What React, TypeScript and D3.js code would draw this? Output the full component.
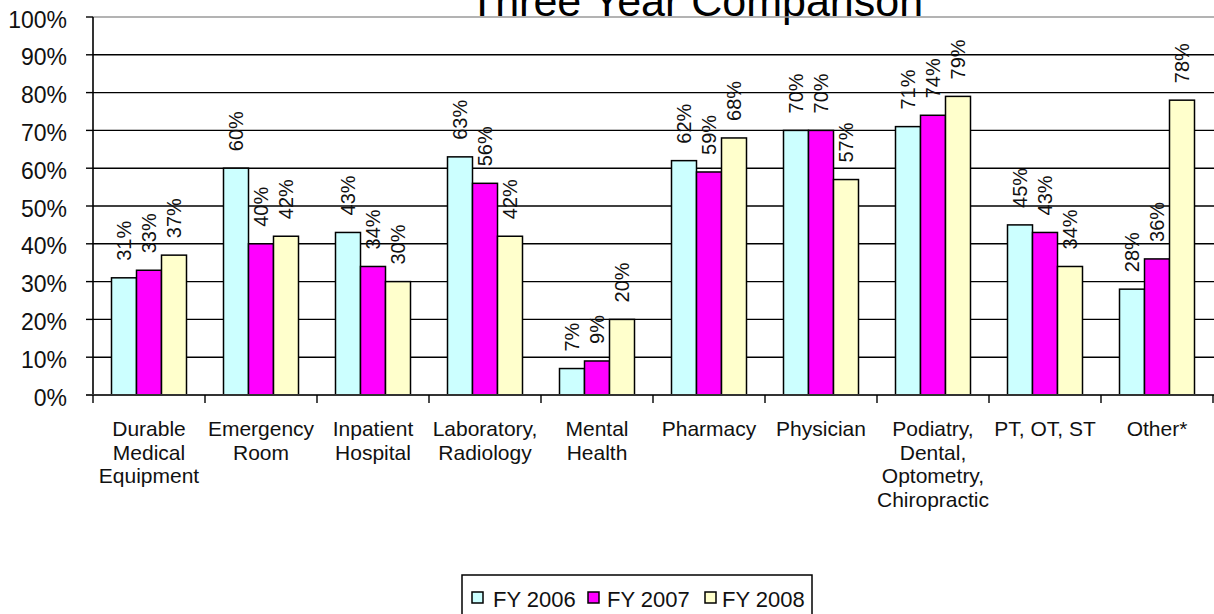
import React from "react";
import * as d3 from "d3";

const title = "Three Year Comparison";
const categories = [
  "Durable Medical Equipment",
  "Emergency Room",
  "Inpatient Hospital",
  "Laboratory, Radiology",
  "Mental Health",
  "Pharmacy",
  "Physician",
  "Podiatry, Dental, Optometry, Chiropractic",
  "PT, OT, ST",
  "Other*",
];
const categoryLines = [
  ["Durable", "Medical", "Equipment"],
  ["Emergency", "Room"],
  ["Inpatient", "Hospital"],
  ["Laboratory,", "Radiology"],
  ["Mental", "Health"],
  ["Pharmacy"],
  ["Physician"],
  ["Podiatry,", "Dental,", "Optometry,", "Chiropractic"],
  ["PT, OT, ST"],
  ["Other*"],
];
const seriesNames = ["FY 2006", "FY 2007", "FY 2008"];
const fy2006 = [31, 60, 43, 63, 7, 62, 70, 71, 45, 28];
const fy2007 = [33, 40, 34, 56, 9, 59, 70, 74, 43, 36];
const fy2008 = [37, 42, 30, 42, 20, 68, 57, 79, 34, 78];
const yTicks = [0, 10, 20, 30, 40, 50, 60, 70, 80, 90, 100];

const colors = ["#CCFFFF", "#FF00FF", "#FFFFCC"];
const FONT = "'Liberation Sans', Arial, sans-serif";

export default function App() {
  const W = 1214;
  const H = 614;
  const left = 93;
  const right = 1213;
  const top = 17;
  const bottom = 395;
  const series = [fy2006, fy2007, fy2008];

  const x = d3.scaleBand<string>().domain(categories).range([left, right]).paddingInner(0).paddingOuter(0);
  const xs = d3
    .scaleBand<string>()
    .domain(seriesNames)
    .range([0, x.bandwidth()])
    .paddingInner(0)
    .paddingOuter(0.74);
  const y = d3.scaleLinear().domain([0, 100]).range([bottom, top]);

  const legendItems = [
    { sq: 472, tx: 493 },
    { sq: 588, tx: 607 },
    { sq: 705, tx: 722 },
  ];

  return (
    <svg
      width={W}
      height={H}
      style={{ position: "absolute", left: 0, top: 0, background: "#fff" }}
      fontFamily={FONT}
    >
      <rect x={0} y={0} width={W} height={H} fill="#fff" />
      {/* title */}
      <text x={696} y={16} textAnchor="middle" fontSize={43} fill="#000">
        {title}
      </text>

      {/* gridlines */}
      {yTicks.map((t) => (
        <line
          key={"g" + t}
          x1={left}
          x2={W}
          y1={y(t)}
          y2={y(t)}
          stroke={t === 100 ? "#9a9a9a" : t === 0 ? "#333" : "#000"}
          strokeWidth={t === 0 ? 2.2 : 1.4}
        />
      ))}
      {/* y ticks */}
      {yTicks.map((t) => (
        <g key={"yt" + t}>
          <line x1={86} x2={left} y1={y(t)} y2={y(t)} stroke="#000" strokeWidth={1.4} />
          <text x={67} y={y(t)} dy="0.46em" textAnchor="end" fontSize={23} fill="#111">
            {t + "%"}
          </text>
        </g>
      ))}

      {/* bars */}
      {categories.map((c, i) =>
        series.map((s, j) => {
          const bx = (x(c) as number) + (xs(seriesNames[j]) as number);
          const bw = xs.bandwidth();
          return (
            <rect
              key={c + j}
              x={bx}
              y={y(s[i])}
              width={bw}
              height={y(0) - y(s[i])}
              fill={colors[j]}
              stroke="#000"
              strokeWidth={1.5}
            />
          );
        })
      )}

      {/* data labels */}
      {categories.map((c, i) =>
        series.map((s, j) => {
          const cx = (x(c) as number) + (xs(seriesNames[j]) as number) + xs.bandwidth() / 2;
          const ty = y(s[i]) - 17;
          return (
            <text
              key={"l" + c + j}
              transform={`translate(${cx},${ty}) rotate(-90)`}
              dominantBaseline="central"
              textAnchor="start"
              fontSize={20}
              fill="#111"
            >
              {s[i] + "%"}
            </text>
          );
        })
      )}

      {/* y axis */}
      <line x1={left} x2={left} y1={top} y2={bottom} stroke="#000" strokeWidth={1.6} />
      {/* x axis */}
      <line x1={86} x2={W} y1={bottom} y2={bottom} stroke="#333" strokeWidth={2.2} />
      {d3.range(categories.length + 1).map((k) => {
        const tx = left + k * x.bandwidth();
        return <line key={"xt" + k} x1={tx} x2={tx} y1={bottom} y2={403} stroke="#000" strokeWidth={1.4} />;
      })}

      {/* category labels */}
      {categories.map((c, i) => {
        const cx = (x(c) as number) + x.bandwidth() / 2;
        return (
          <text key={"c" + c} textAnchor="middle" fontSize={21} fill="#111">
            {categoryLines[i].map((ln, k) => (
              <tspan key={k} x={cx} y={436 + k * 23.6}>
                {ln}
              </tspan>
            ))}
          </text>
        );
      })}

      {/* legend */}
      <rect x={462} y={575} width={350} height={50} fill="#fff" stroke="#000" strokeWidth={1.5} />
      {seriesNames.map((n, j) => (
        <g key={"lg" + n}>
          <rect
            x={legendItems[j].sq}
            y={592}
            width={11}
            height={11}
            fill={colors[j]}
            stroke="#000"
            strokeWidth={1.5}
          />
          <text x={legendItems[j].tx} y={607} fontSize={22} fill="#111">
            {n}
          </text>
        </g>
      ))}
    </svg>
  );
}
